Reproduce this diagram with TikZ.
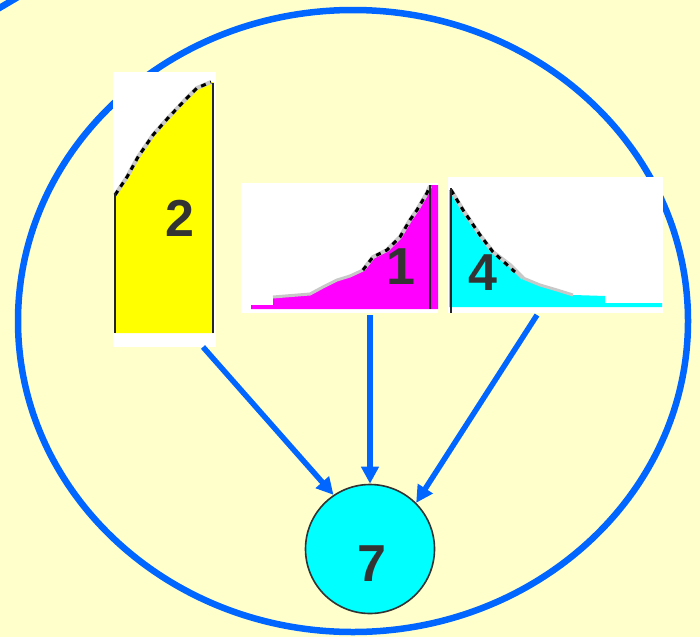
\documentclass[tikz,border=0pt]{standalone}
\usepackage{fontspec}
\setmainfont{Liberation Sans}
\usetikzlibrary{arrows.meta}
\definecolor{bgyellow}{HTML}{FFFFCC}
\definecolor{ringblue}{HTML}{0066FF}
\definecolor{numgray}{HTML}{333333}
\definecolor{halogray}{HTML}{C8C8C8}
\definecolor{fillcyan}{HTML}{00FFFF}
\definecolor{fillmagenta}{HTML}{FF00FF}
\definecolor{fillyellow}{HTML}{FFFF00}
\tikzset{
  panel/.style={fill=white, draw=none, inner sep=0pt, anchor=north west},
  numlabel/.style={text=numgray, font=\fontsize{52}{52}\selectfont\bfseries, inner sep=0pt},
  axisline/.style={draw=black!85, line width=2pt},
  halo/.style={draw=halogray, line width=4pt},
  dotcurve/.style={draw=black, line width=3pt, dash pattern=on 5pt off 5pt},
  flow/.style={draw=ringblue, line width=5.5pt, -{Triangle[length=17pt,width=17pt]}},
}
\begin{document}
\begin{tikzpicture}[x=1pt,y=-1pt]
\useasboundingbox (0,0) rectangle (700,637);
\fill[bgyellow] (0,0) rectangle (700,637);
% partial ring in top-left corner
\begin{scope}
\clip (0,0) rectangle (700,637);
\draw[ringblue, line width=6.5pt] (-4,10) -- (18,-3);
\end{scope}
% big ring
\draw[ringblue, line width=6.5pt] (353,321) ellipse [x radius=335, y radius=311];

% panel 2 (yellow)
\node[panel, minimum width=103pt, minimum height=275pt] (p2) at (113,72) {};
\fill[fillyellow] (115,333) -- (115,193) -- (127,177) -- (138,157) -- (153,135) -- (168,118) -- (185,100) -- (197,88) -- (213,82) -- (213,333) -- cycle;
\draw[halo] (115,195) -- (127,177) -- (138,157) -- (153,135) -- (168,118) -- (185,100) -- (197,88) -- (211,82);
\draw[dotcurve] (115,195) -- (127,177) -- (138,157) -- (153,135) -- (168,118) -- (185,100) -- (197,88) -- (211,82);
\draw[axisline] (115,193) -- (115,333);
\draw[axisline] (213,83) -- (213,333);
\node[numlabel] (n2) at (180,218) {2};

% panel 1 (magenta)
\node[panel, minimum width=197pt, minimum height=130pt] (p1) at (241,183) {};
\fill[fillmagenta] (251,309) -- (251,305) -- (273,305) -- (273,297) -- (310,294) -- (323,287) -- (337,280) -- (350,276) -- (363,270) -- (373,257) -- (387,250) -- (400,237) -- (410,220) -- (417,210) -- (427,193) -- (430,185) -- (438,185) -- (438,309) -- cycle;
\draw[halogray, line width=3pt] (273,297) -- (310,294) -- (323,287) -- (337,280) -- (350,276) -- (363,270);
\draw[halo] (363,270) -- (373,257) -- (387,250) -- (400,237) -- (410,220) -- (417,210) -- (427,193) -- (430,186);
\draw[dotcurve] (363,270) -- (373,257) -- (387,250) -- (400,237) -- (410,220) -- (417,210) -- (427,193) -- (430,186);
\draw[axisline] (430,185) -- (430,309);
\node[numlabel] (n1) at (401,267) {1};

% panel 4 (cyan)
\node[panel, minimum width=215pt, minimum height=136pt] (p4) at (448,177) {};
\fill[fillcyan] (449,307) -- (449,190) -- (451,190) -- (463,210) -- (480,235) -- (493,252) -- (510,265) -- (523,278) -- (540,285) -- (557,290) -- (573,295) -- (605,296) -- (605,303) -- (662,303) -- (662,307) -- cycle;
\draw[halo] (451,190) -- (463,210) -- (480,235) -- (493,252) -- (510,265) -- (523,278);
\draw[halogray, line width=3pt] (523,278) -- (540,285) -- (557,290) -- (573,295);
\draw[dotcurve] (451,190) -- (463,210) -- (480,235) -- (493,252) -- (515,272);
\draw[axisline] (451,188) -- (451,313);
\node[numlabel] (n4) at (483,273) {4};

% target circle
\node[circle, fill=fillcyan, draw=numgray, line width=1.6pt, minimum size=129pt, inner sep=0pt] (c7) at (370,549) {};
\node[numlabel] (n7) at (372,564) {7};

% arrows
\coordinate (s2) at (203,347);
\coordinate (s1) at (370,315);
\coordinate (s4) at (537,315);
\draw[flow] (s2) -- (c7.124);
\draw[flow] (s1) -- (c7.north);
\draw[flow] (s4) -- (c7.45);
\end{tikzpicture}
\end{document}
